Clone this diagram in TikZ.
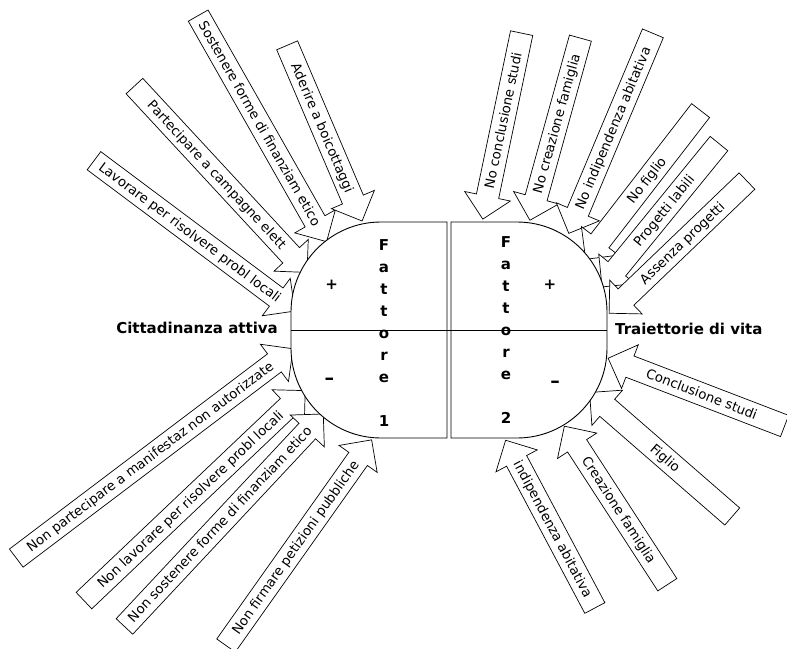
\documentclass[tikz,border=0pt]{standalone}
\usepackage{fontspec}
\setmainfont{DejaVu Sans}
\usetikzlibrary{shapes.arrows}

\begin{document}
\begin{tikzpicture}[
  x=1pt, y=-1pt,
  font=\fontsize{13.3}{16}\selectfont,
  item/.style={single arrow, draw, fill=white, line width=0.7pt,
    inner xsep=0pt, inner ysep=0pt, text height=15.5pt, text depth=6.5pt,
    single arrow head extend=12pt, anchor=tail},
  itemr/.style={item, shape border rotate=180},
  title/.style={font=\fontsize{15}{18}\selectfont\bfseries, inner sep=0pt},
  fatt/.style={font=\fontsize{15}{22}\selectfont\bfseries, align=center, inner sep=0pt, anchor=north},
  sign/.style={font=\fontsize{15}{18}\selectfont\bfseries, inner sep=0pt},
  minussign/.style={font=\fontsize{19}{20}\selectfont\bfseries, inner sep=0pt}
]
\useasboundingbox (0,0) rectangle (787,648);
\fill[white] (0,0) rectangle (787,648);

% Cittadinanza attiva: +
\node[item, rotate=-60.4, minimum height=260pt] (pos2) at (198,15.3) {Sostenere forme di finanziam etico};
\node[item, rotate=-66.9, minimum height=191pt] (pos1) at (287,45) {Aderire a boicottaggi};
\node[item, rotate=-47.2, minimum height=254pt] (pos3) at (134.2,85.8) {Partecipare a campagne elett};
\node[item, rotate=-36.8, minimum height=251pt] (pos4) at (93.7,160.5) {Lavorare per risolvere probl locali};

% Cittadinanza attiva: -
\node[item, rotate=37.1, minimum height=347pt] (neg1) at (16,558.3) {Non partecipare a manifestaz non autorizzate};
\node[item, rotate=43.5, minimum height=305pt] (neg2) at (83.7,600.8) {Non lavorare per risolvere probl locali};
\node[item, rotate=46.9, minimum height=291pt] (neg3) at (124.2,626.7) {Non sostenere forme di finanziam etico};
\node[item, rotate=54.7, minimum height=252pt] (neg4) at (225.8,645.8) {Non firmare petizioni pubbliche};

% Traiettorie di vita: +
\node[itemr, rotate=78.2, minimum height=190pt] (no1) at (521.7,32.8) {No conclusione studi};
\node[itemr, rotate=74.5, minimum height=189pt] (no2) at (580.5,37.8) {No creazione famiglia};
\node[itemr, rotate=67.2, minimum height=217pt] (no3) at (653,33) {No indipendenza abitativa};
\node[itemr, rotate=52.3, minimum height=188pt] (no4) at (700.8,110.3) {No figlio};
\node[itemr, rotate=50.8, minimum height=185pt] (no5) at (719.2,143.3) {Progetti labili};
\node[itemr, rotate=43.8, minimum height=191pt] (no6) at (747.2,180.8) {Assenza progetti};

% Traiettorie di vita: -
\node[itemr, rotate=-21, minimum height=189pt] (si1) at (784.9,426.1) {Conclusione studi};
\node[itemr, rotate=-41, minimum height=189pt] (si2) at (732.5,516.7) {Figlio};
\node[itemr, rotate=-57, minimum height=189pt] (si3) at (667.5,585) {Creazione famiglia};
\node[itemr, rotate=-62, minimum height=190pt] (si4) at (595,608.3) {indipendenza abitativa};

% the two factor boxes
\draw[fill=white, line width=0.9pt] (447,222) -- (381,222) .. controls (331.3,222) and (291,262.3) .. (291,312)
  -- (291,348) .. controls (291,397.7) and (331.3,438) .. (381,438) -- (447,438) -- cycle;
\draw[fill=white, line width=0.9pt] (451,222) -- (517,222) .. controls (566.7,222) and (607,262.3) .. (607,312)
  -- (607,348) .. controls (607,397.7) and (566.7,438) .. (517,438) -- (451,438) -- cycle;
\draw[line width=0.9pt] (291,330) -- (607,330);

\node[title, anchor=base east] (cit) at (278,333) {Cittadinanza attiva};
\node[title, anchor=base west] (traj) at (615,334) {Traiettorie di vita};

\node[fatt] (f1) at (384,239.3) {F\\a\\t\\t\\o\\r\\e\\\mbox{}\\1};
\node[fatt] (f2) at (506,236.7) {F\\a\\t\\t\\o\\r\\e\\\mbox{}\\2};

\node[sign] (p1) at (331.7,285) {+};
\node[minussign] (m1) at (329.3,381) {--};
\node[sign] (p2) at (550,285) {+};
\node[minussign] (m2) at (555,384.5) {--};

\end{tikzpicture}
\end{document}
